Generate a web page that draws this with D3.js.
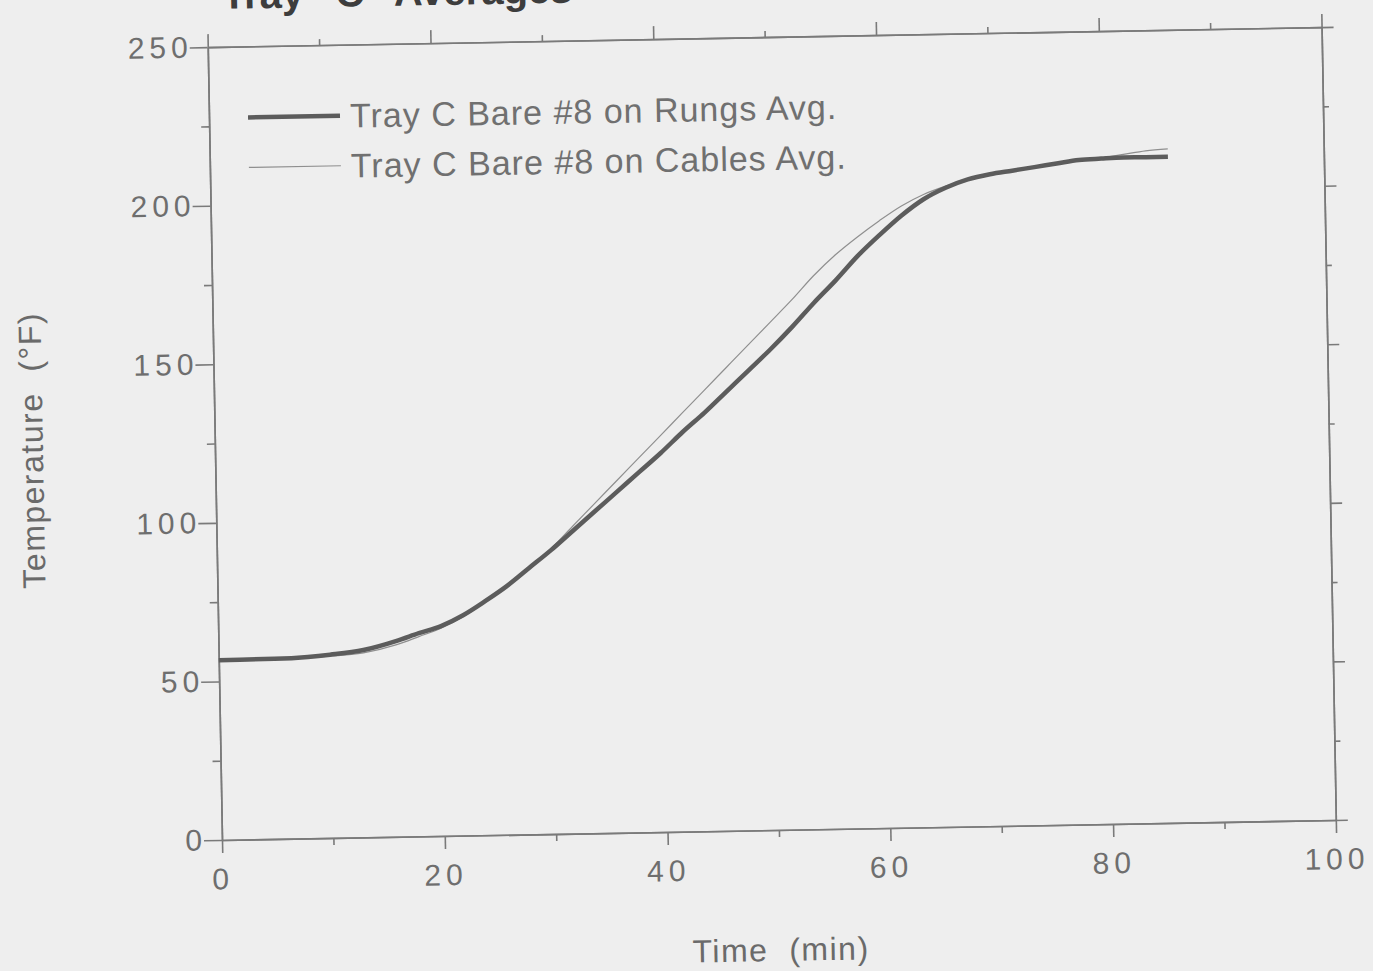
<!DOCTYPE html>
<html>
<head>
<meta charset="utf-8">
<script src="https://cdn.jsdelivr.net/npm/d3@7"></script>
<style>
    html, body { margin: 0; padding: 0; background: #eeeeee; }
    svg { display: block; }
    .tick-label { font-family: "Liberation Sans", Arial, sans-serif; fill: #6e6e6e; }
</style>
</head>
<body>
<div id="chart"></div>
<script>
// Data (time in minutes, temperature in deg F)
const timeMin = [0, 5, 8, 10, 13, 16, 18, 20, 22, 24, 26, 28, 30, 32, 34, 36, 38, 40, 42, 44,
    46, 48, 50, 52, 54, 56, 58, 60, 62, 64, 66, 68, 70, 72, 74, 76, 78, 80, 82, 84, 86];

const rungsAvg = [56.7, 56.8, 57.2, 57.8, 59.1, 61.8, 64.1, 66.2, 69.5, 73.8, 78.5, 84, 89.5,
    95.5, 101.5, 107.5, 113.5, 119.5, 126, 132, 138.5, 145, 151.5, 158.5, 166, 173, 180.5,
    187, 193, 198, 201.5, 204, 205.5, 206.5, 207.5, 208.5, 209.5, 209.8, 210, 210, 210];

const cablesAvg = [56.7, 56.8, 57, 57.3, 58.2, 60.6, 63, 65.5, 69, 73.5, 78.5, 84, 90, 97,
    104, 111, 118, 125, 132, 139, 146, 153, 160, 167, 174.5, 181, 186.5, 191.5,
    196, 199.5, 202, 204, 205.5, 206.5, 207.5, 208.5, 209.5, 210, 211, 212, 212.5];

const xTicks = [0, 20, 40, 60, 80, 100];
const yTicks = [0, 50, 100, 150, 200, 250];

const series = [
    {label: "Tray C Bare #8 on Cables Avg.", values: cablesAvg, color: "#8f8f8f", width: 1.2},
    {label: "Tray C Bare #8 on Rungs Avg.", values: rungsAvg, color: "#5c5c5c", width: 4.5}
];

const W = 1373, H = 971;
const origin = {x: 222, y: 840};
const width = 1114, height = 793;
const tilt = -1.03;   // the scan is slightly rotated

const x = d3.scaleLinear().domain([0, 100]).range([0, width]);
const y = d3.scaleLinear().domain([0, 250]).range([height, 0]);

const svg = d3.select("#chart").append("svg")
    .attr("width", W)
    .attr("height", H);

const g = svg.append("g")
    .attr("transform", `rotate(${tilt}, ${origin.x}, ${origin.y}) translate(${origin.x}, ${origin.y - height})`);

// Title (cut by the top edge of the scan)
g.append("text")
    .attr("x", 15)
    .attr("y", -38)
    .style("font-family", "'Liberation Sans', Arial, sans-serif")
    .style("font-weight", "bold")
    .style("font-size", "40px")
    .style("fill", "#3d3d3d")
    .text("Tray \u201CC\u201D Averages");

// Axes: frame lines, major and minor ticks
function styleAxis(sel) {
    sel.selectAll("path.domain").attr("stroke", "#7a7a7a").attr("stroke-width", 1.6);
    sel.selectAll(".tick line").attr("stroke", "#7a7a7a").attr("stroke-width", 1.6);
    sel.selectAll(".tick text")
        .attr("class", "tick-label")
        .style("font-size", "30px")
        .style("letter-spacing", "5px");
}

g.append("g")
    .attr("transform", `translate(0, ${height})`)
    .call(d3.axisBottom(x).tickValues(xTicks).tickSize(13).tickSizeOuter(0).tickPadding(15))
    .call(styleAxis);

g.append("g")
    .attr("transform", `translate(0, ${height})`)
    .call(d3.axisBottom(x).tickValues(d3.range(10, 100, 20)).tickSize(7).tickSizeOuter(0).tickFormat(""))
    .call(styleAxis);

g.append("g")
    .call(d3.axisLeft(y).tickValues(yTicks).tickSize(18).tickSizeOuter(0).tickPadding(-3))
    .call(styleAxis);

g.append("g")
    .call(d3.axisLeft(y).tickValues(d3.range(25, 250, 50)).tickSize(8).tickSizeOuter(0).tickFormat(""))
    .call(styleAxis);

g.append("g")
    .call(d3.axisTop(x).tickValues(xTicks).tickSize(13).tickSizeOuter(0).tickFormat(""))
    .call(styleAxis);

g.append("g")
    .call(d3.axisTop(x).tickValues(d3.range(10, 100, 20)).tickSize(6).tickSizeOuter(0).tickFormat(""))
    .call(styleAxis);

g.append("g")
    .attr("transform", `translate(${width}, 0)`)
    .call(d3.axisRight(y).tickValues(yTicks).tickSize(12).tickSizeOuter(0).tickFormat(""))
    .call(styleAxis);

g.append("g")
    .attr("transform", `translate(${width}, 0)`)
    .call(d3.axisRight(y).tickValues(d3.range(25, 250, 50)).tickSize(6).tickSizeOuter(0).tickFormat(""))
    .call(styleAxis);

// Axis titles
g.append("text")
    .attr("x", x(50))
    .attr("y", height + 131)
    .attr("text-anchor", "middle")
    .style("font-family", "'Liberation Sans', Arial, sans-serif")
    .style("font-size", "32px")
    .style("letter-spacing", "1.5px")
    .style("fill", "#6a6a6a")
    .style("white-space", "pre")
    .text("Time  (min)");

g.append("text")
    .attr("transform", `translate(-172, ${height - 393}) rotate(-90)`)
    .attr("text-anchor", "middle")
    .style("font-family", "'Liberation Sans', Arial, sans-serif")
    .style("font-size", "32px")
    .style("letter-spacing", "1.5px")
    .style("fill", "#6a6a6a")
    .style("white-space", "pre")
    .text("Temperature  (\u00B0F)");

// Plot lines
const line = d3.line()
    .x((d, i) => x(timeMin[i]))
    .y(d => y(d))
    .curve(d3.curveMonotoneX);

series.forEach(s => {
    g.append("path")
        .attr("d", line(s.values))
        .attr("fill", "none")
        .attr("stroke", s.color)
        .attr("stroke-width", s.width)
        .attr("stroke-linejoin", "round");
});

// Legend, rungs first
const legend = g.append("g").attr("transform", "translate(39, 71)");

[series[1], series[0]].forEach((s, i) => {
    const row = legend.append("g").attr("transform", `translate(0, ${i * 50})`);
    row.append("line")
        .attr("x1", 0).attr("x2", 92)
        .attr("stroke", s.color)
        .attr("stroke-width", s.width);
    row.append("text")
        .attr("x", 102)
        .attr("y", 12)
        .style("font-family", "'Liberation Sans', Arial, sans-serif")
        .style("font-size", "34px")
        .style("letter-spacing", "1px")
        .style("fill", "#707070")
        .text(s.label);
});
</script>
</body>
</html>
